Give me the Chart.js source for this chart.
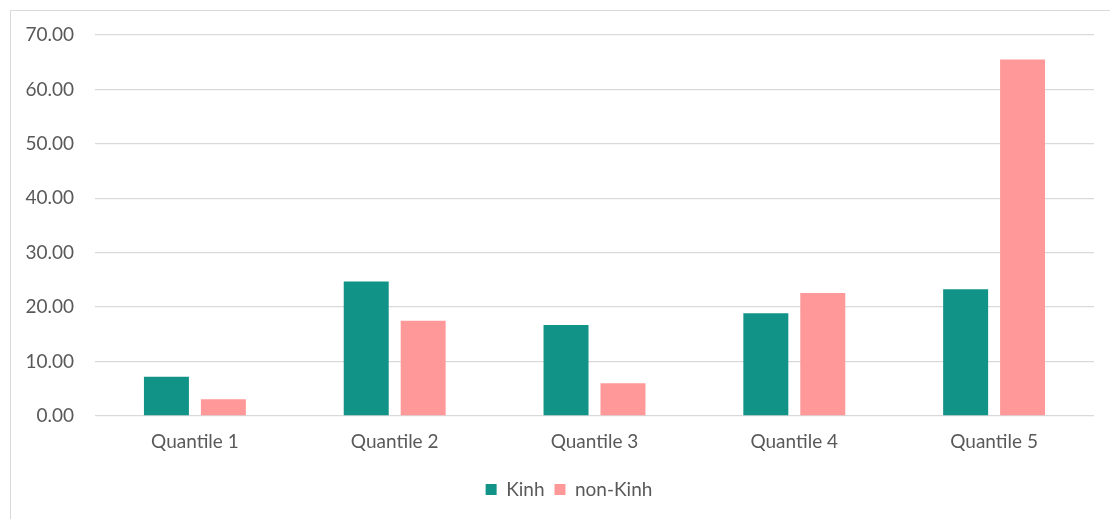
<!DOCTYPE html>
<html>
<head>
<meta charset="utf-8">
<script src="https://cdn.jsdelivr.net/npm/chart.js@4.4.1/dist/chart.umd.min.js"></script>
<style>
  html, body { margin: 0; padding: 0; background: #fff; overflow: hidden; }
  .frame { position: absolute; left: 10px; top: 10px; width: 1120px; height: 530px; border: 1px solid #d9d9d9; box-sizing: border-box; }
  #chart { position: absolute; left: 0; top: 0; }
</style>
</head>
<body>
<div class="frame"></div>
<canvas id="chart" width="1110" height="519"></canvas>
<script>
// quantile groups and the two population series
const categories = ['Quantile 1', 'Quantile 2', 'Quantile 3', 'Quantile 4', 'Quantile 5'];
const kinh = [7.2, 24.7, 16.7, 18.9, 23.3];
const nonKinh = [3.1, 17.5, 6.0, 22.6, 65.5];
const yTicks = [0, 10, 20, 30, 40, 50, 60, 70];

const textColor = '#595959';
const gridColor = '#d9d9d9';
const fontFamily = 'Lato, "Open Sans", sans-serif';
const fontSize = 19;

// nudge the legend to the right so it sits under the middle of the frame
const legendShift = {
  id: 'legendShift',
  afterLayout(chart) {
    const lg = chart.legend;
    if (lg) {
      lg.left += 22;
      lg.right += 22;
    }
  }
};

const ctx = document.getElementById('chart').getContext('2d');

new Chart(ctx, {
  type: 'bar',
  data: {
    labels: categories,
    datasets: [
      {
        label: 'Kinh',
        data: kinh,
        backgroundColor: '#119487',
        borderWidth: 0
      },
      {
        label: 'non-Kinh',
        data: nonKinh,
        backgroundColor: '#ff9999',
        borderWidth: 0
      }
    ]
  },
  options: {
    responsive: false,
    animation: false,
    categoryPercentage: 0.57,
    barPercentage: 0.79,
    layout: {
      padding: { left: 0, right: 16, top: 35, bottom: 10 }
    },
    plugins: {
      tooltip: { enabled: false },
      legend: {
        position: 'bottom',
        labels: {
          color: textColor,
          font: { family: fontFamily, size: fontSize },
          boxWidth: 11,
          boxHeight: 11,
          padding: 10
        }
      }
    },
    scales: {
      x: {
        grid: { display: false, drawTicks: false },
        border: { display: false },
        ticks: {
          color: textColor,
          font: { family: fontFamily, size: fontSize },
          padding: 14
        },
        afterFit: (scale) => { scale.height = 54; }
      },
      y: {
        min: 0,
        max: 70,
        afterBuildTicks: (scale) => {
          scale.ticks = yTicks.map(v => ({ value: v }));
        },
        grid: { color: gridColor, lineWidth: 1.3, drawTicks: false },
        border: { display: false },
        ticks: {
          color: textColor,
          font: { family: fontFamily, size: fontSize },
          padding: 21,
          callback: (v) => Number(v).toFixed(2)
        },
        afterFit: (scale) => { scale.width = 95; }
      }
    }
  },
  plugins: [legendShift]
});
</script>
</body>
</html>
